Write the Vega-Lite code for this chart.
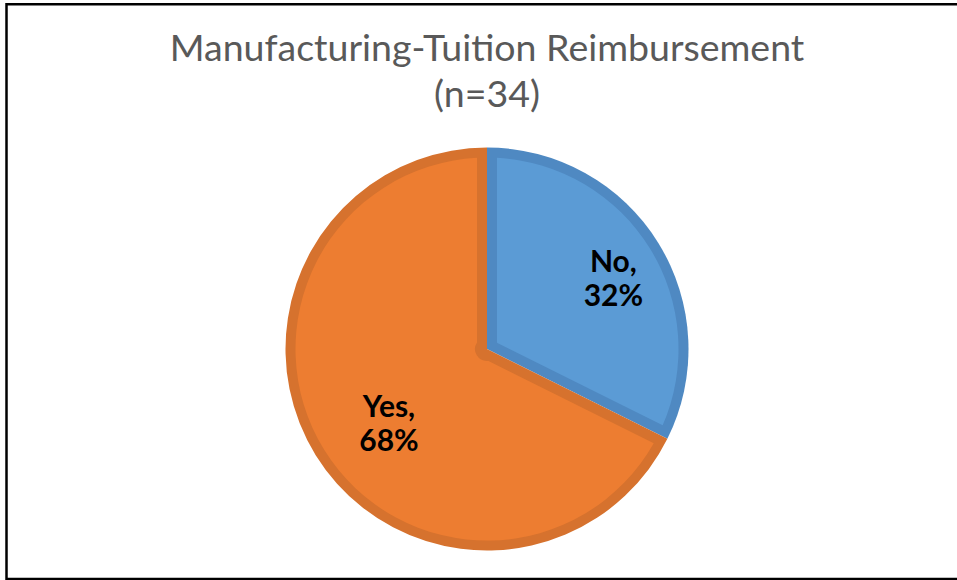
{
  "$schema": "https://vega.github.io/schema/vega-lite/v6.json",
  "autosize": {"type": "fit", "contains": "padding"},
  "width": 957,
  "height": 580,
  "padding": {"left": 6.5, "top": 4.3, "right": -10.5, "bottom": 1},
  "background": "white",
  "view": {"stroke": "#000000", "strokeWidth": 2.5, "fill": "white"},
  "config": {"view": {"stroke": "#000000", "strokeWidth": 2.5}},
  "title": {
    "text": ["Manufacturing-Tuition Reimbursement", "(n=34)"],
    "font": "Lato",
    "fontSize": 37.5,
    "fontWeight": "normal",
    "color": "#595959",
    "anchor": "middle",
    "frame": "group",
    "baseline": "top",
    "offset": -110,
    "lineHeight": 46
  },
  "data": {
    "values": [
      {"answer": "No", "count": 11, "label": "No,\n32%"},
      {"answer": "Yes", "count": 23, "label": "Yes,\n68%"}
    ]
  },
  "encoding": {
    "theta": {"field": "count", "type": "quantitative", "stack": true}
  },
  "layer": [
    {
      "mark": {"type": "arc", "outerRadius": 201.5, "yOffset": 57.4},
      "encoding": {
        "color": {"field": "answer", "type": "nominal", "scale": {"domain": ["No", "Yes"], "range": ["#4F89C2", "#D6722E"]}, "legend": null}
      }
    },
    {
      "mark": {"type": "arc", "outerRadius": 191.5, "innerRadius": 12, "padAngle": 0.1043, "yOffset": 57.4},
      "encoding": {
        "color": {"field": "answer", "type": "nominal", "scale": {"domain": ["No", "Yes"], "range": ["#5B9BD5", "#ED7D31"]}, "legend": null}
      }
    },
    {
      "mark": {
        "type": "text",
        "font": "Lato",
        "fontSize": 30,
        "fontWeight": "bold",
        "color": "#000000",
        "lineBreak": "\n",
        "lineHeight": 34,
        "baseline": "middle",
        "align": "center",
        "yOffset": 57.4,
        "dy": -17,
        "radius": {"expr": "datum.answer == 'No' ? 144 : 124"},
        "thetaOffset": {"expr": "datum.answer == 'No' ? 0.054 : -0.105"}
      },
      "encoding": {
        "text": {"field": "label"},
        "detail": {"field": "answer"}
      }
    }
  ],
  "resolve": {"scale": {"color": "independent"}}
}
